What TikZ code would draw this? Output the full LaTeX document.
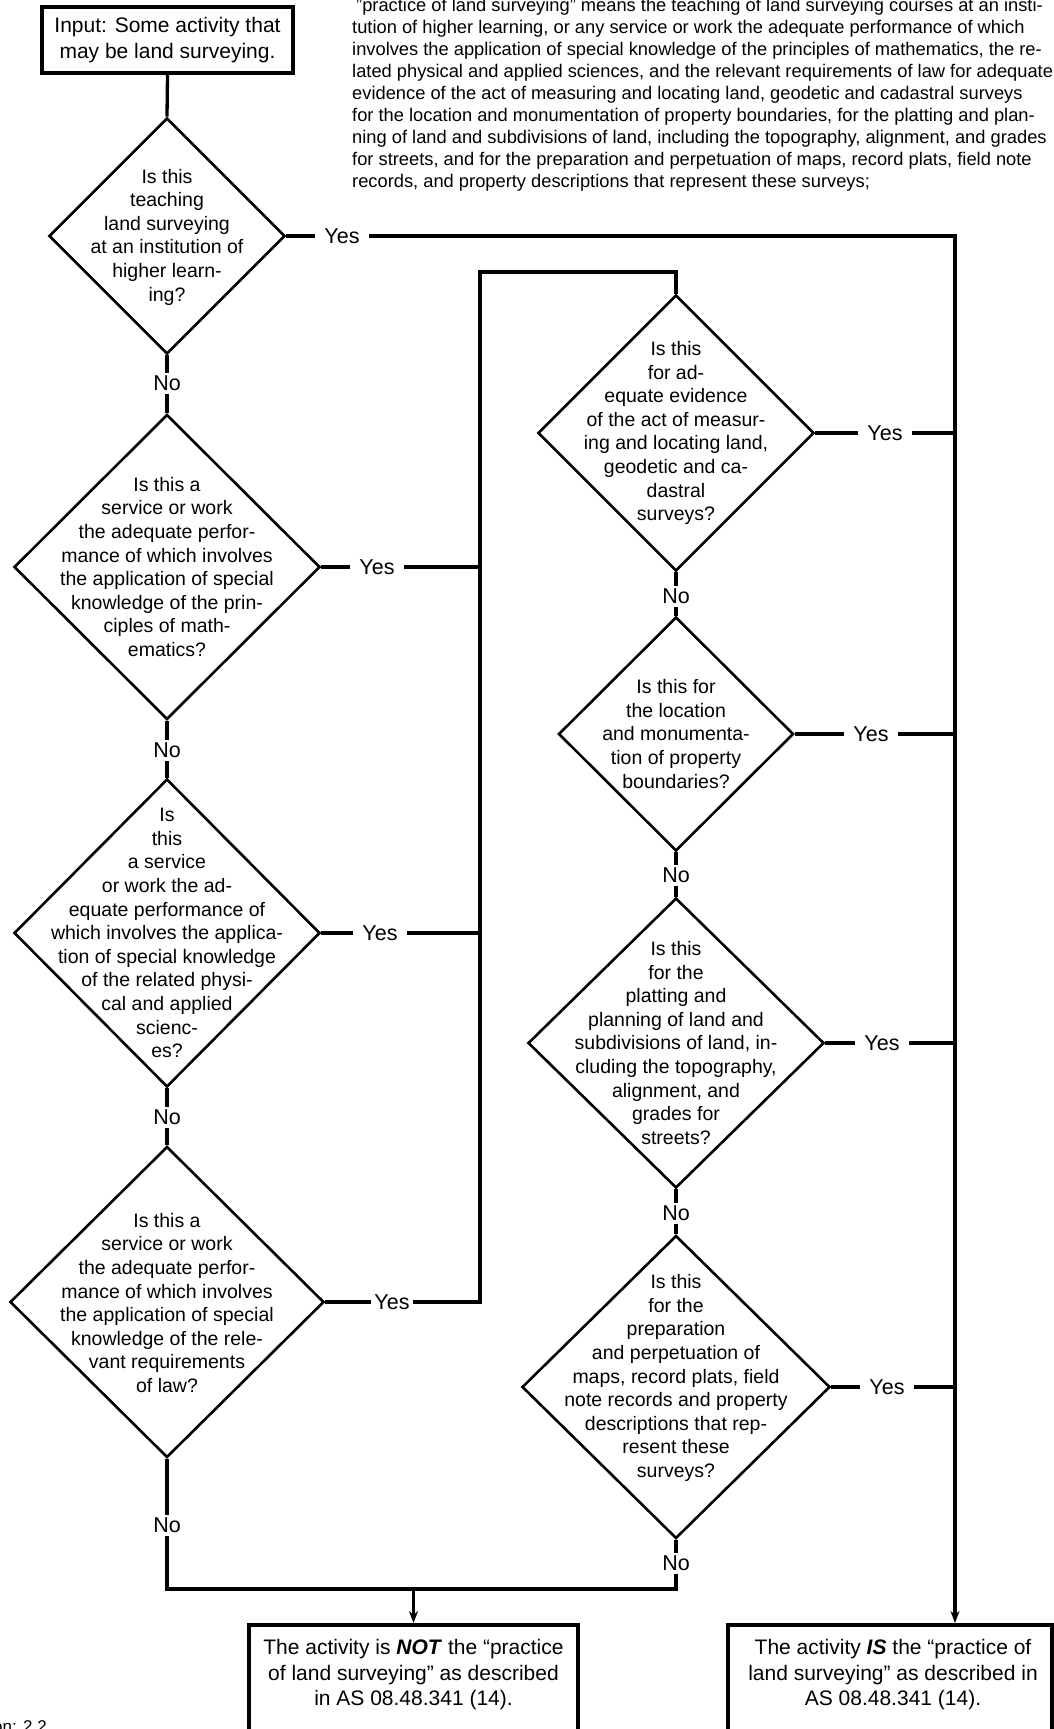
\documentclass[tikz,border=0pt]{standalone}
\usepackage{fontspec}
\setmainfont{Liberation Sans}
\usetikzlibrary{shapes.geometric,arrows.meta}
\begin{document}
\begin{tikzpicture}[x=1pt,y=-1pt,
  dia/.style={diamond, draw, line width=2.6pt, inner sep=0pt},
  qtext/.style={align=center, font=\fontsize{19.5}{23.6}\selectfont, inner sep=0pt},
  lbl/.style={fill=white, font=\fontsize{21.5}{24}\selectfont, inner xsep=9pt, inner ysep=2pt},
  nolbl/.style={fill=white, font=\fontsize{21.5}{24}\selectfont, inner xsep=2pt, inner ysep=3pt},
  conn/.style={line width=3.3pt},
  arr/.style={line width=3.3pt, -{Stealth[length=12pt,width=9pt]}},
  box/.style={draw, line width=3.8pt},
  btext/.style={align=center, font=\fontsize{21}{25.5}\selectfont, inner sep=0pt},
  para/.style={anchor=base west, font=\fontsize{18.3}{21.9}\selectfont, inner sep=0pt}
]
\useasboundingbox (0,0) rectangle (1054,1729);
\clip (0,0) rectangle (1054,1729);
\fill[white] (0,0) rectangle (1054,1729);

% paragraph
\node[para] (p1) at (356,11.8) {"practice of land surveying" means the teaching of land surveying courses at an insti-};
\node[para] (p2) at (352,33.7) {tution of higher learning, or any service or work the adequate performance of which};
\node[para] (p3) at (352,55.6) {involves the application of special knowledge of the principles of mathematics, the re-};
\node[para] (p4) at (352,77.5) {lated physical and applied sciences, and the relevant requirements of law for adequate};
\node[para] (p5) at (352,99.4) {evidence of the act of measuring and locating land, geodetic and cadastral surveys};
\node[para] (p6) at (352,121.3) {for the location and monumentation of property boundaries, for the platting and plan-};
\node[para] (p7) at (352,143.2) {ning of land and subdivisions of land, including the topography, alignment, and grades};
\node[para] (p8) at (352,165.1) {for streets, and for the preparation and perpetuation of maps, record plats, field note};
\node[para] (p9) at (352,187.0) {records, and property descriptions that represent these surveys;};

% boxes
\node[box, btext, minimum width=251pt, minimum height=66pt] (input) at (167.5,40) {Input: Some activity that\\may be land surveying.};
\node[box, minimum width=329pt, minimum height=170pt, anchor=north] (notbox) at (413.5,1623) {};
\node[btext] (nott) at (413.5,1675) {The activity is \textbf{\textit{NOT}} the “practice\\of land surveying” as described\\in AS 08.48.341 (14).};
\node[box, minimum width=324pt, minimum height=170pt, anchor=north] (isbox) at (890,1623) {};
\node[btext] (ist) at (893,1675) {The activity \textbf{\textit{IS}} the “practice of\\land surveying” as described in\\AS 08.48.341 (14).};

% diamonds
\node[dia, minimum width=236pt, minimum height=236pt] (d1) at (167,236) {};
\node[dia, minimum width=306pt, minimum height=305pt] (d2) at (167,567) {};
\node[dia, minimum width=306pt, minimum height=308pt] (d3) at (167,933) {};
\node[dia, minimum width=314pt, minimum height=311pt] (d4) at (167,1302) {};
\node[dia, minimum width=276pt, minimum height=276pt] (d5) at (676,433) {};
\node[dia, minimum width=235pt, minimum height=234pt] (d6) at (676,734) {};
\node[dia, minimum width=296pt, minimum height=290pt] (d7) at (676,1043) {};
\node[dia, minimum width=308pt, minimum height=303pt] (d8) at (676,1387) {};

\node[qtext] (t1) at (167,237) {Is this\\teaching\\land surveying\\at an institution of\\higher learn-\\ing?};
\node[qtext] (t2) at (167,567) {Is this a\\service or work\\the adequate perfor-\\mance of which involves\\the application of special\\knowledge of the prin-\\ciples of math-\\ematics?};
\node[qtext] (t3) at (167,933) {Is\\this\\a service\\or work the ad-\\equate performance of\\which involves the applica-\\tion of special knowledge\\of the related physi-\\cal and applied\\scienc-\\es?};
\node[qtext] (t4) at (167,1303) {Is this a\\service or work\\the adequate perfor-\\mance of which involves\\the application of special\\knowledge of the rele-\\vant requirements\\of law?};
\node[qtext] (t5) at (676,433) {Is this\\for ad-\\equate evidence\\of the act of measur-\\ing and locating land,\\geodetic and ca-\\dastral\\surveys?};
\node[qtext] (t6) at (676,734) {Is this for\\the location\\and monumenta-\\tion of property\\boundaries?};
\node[qtext] (t7) at (676,1043) {Is this\\for the\\platting and\\planning of land and\\subdivisions of land, in-\\cluding the topography,\\alignment, and\\grades for\\streets?};
\node[qtext] (t8) at (676,1378) {Is this\\for the\\preparation\\and perpetuation of\\maps, record plats, field\\note records and property\\descriptions that rep-\\resent these\\surveys?};

% coordinates
\coordinate (r1) at (955,236);
\coordinate (l0) at (480,272);
\coordinate (b0) at (167,1589);

% connectors
\draw[conn] (input.south) -- (d1.north);
\draw[conn] (d1.south) -- (d2.north);
\draw[conn] (d2.south) -- (d3.north);
\draw[conn] (d3.south) -- (d4.north);
\draw[conn] (d5.south) -- (d6.north);
\draw[conn] (d6.south) -- (d7.north);
\draw[conn] (d7.south) -- (d8.north);
\draw[arr] (d1.east) -- (r1) -- (r1 |- isbox.north);
\draw[conn] (d5.east) -- (d5.east -| r1);
\draw[conn] (d6.east) -- (d6.east -| r1);
\draw[conn] (d7.east) -- (d7.east -| r1);
\draw[conn] (d8.east) -- (d8.east -| r1);
\draw[conn] (d4.east) -- (d4.east -| l0) -- (l0) -- (l0 -| d5.north) -- (d5.north);
\draw[conn] (d2.east) -- (d2.east -| l0);
\draw[conn] (d3.east) -- (d3.east -| l0);
\draw[conn] (d4.south) -- (b0) -- (b0 -| d8.south) -- (d8.south);
\draw[arr] (b0 -| notbox.north) -- (notbox.north);

% labels
\node[lbl] (y1) at (342,236) {Yes};
\node[lbl] (y2) at (377,567) {Yes};
\node[lbl] (y3) at (380,933) {Yes};
\node[lbl, inner xsep=3pt] (y4) at (392,1302) {Yes};
\node[lbl] (y5) at (885,433) {Yes};
\node[lbl] (y6) at (871,734) {Yes};
\node[lbl] (y7) at (882,1043) {Yes};
\node[lbl] (y8) at (887,1387) {Yes};
\node[nolbl] (n1) at (167,383) {No};
\node[nolbl] (n2) at (167,750) {No};
\node[nolbl] (n3) at (167,1117) {No};
\node[nolbl] (n4) at (167,1525) {No};
\node[nolbl] (n5) at (676,596) {No};
\node[nolbl] (n6) at (676,875) {No};
\node[nolbl] (n7) at (676,1213) {No};
\node[nolbl] (n8) at (676,1563) {No};

\node[anchor=base east, font=\fontsize{17}{20}\selectfont, inner sep=0pt] (foot) at (47,1732) {on: 2.2};
\end{tikzpicture}
\end{document}
